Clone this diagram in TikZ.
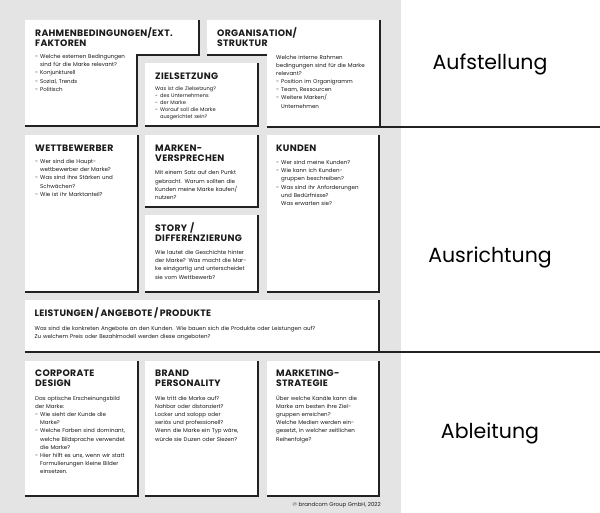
\documentclass[tikz,border=0pt]{standalone}
\usepackage{fontspec}
\setmainfont{Poppins}
\newfontfamily\ttlfont[LetterSpace=3]{Poppins}
\definecolor{bggray}{HTML}{E4E4E4}
\definecolor{shadecol}{HTML}{222222}
\definecolor{txt}{HTML}{1A1A1A}
\newcommand\mybul{\makebox[5pt][l]{-}}
\newcommand\myind{\hspace*{5pt}}
\tikzset{
  card/.style={fill=white},
  shadeline/.style={draw=shadecol,line width=1.3pt},
  ttl/.style={anchor=base west,inner sep=0,text width=170pt,align=left,text=txt,
    font=\ttlfont\bfseries\fontsize{9.3}{9.6}\selectfont},
  body/.style={anchor=base west,inner sep=0,text width=170pt,align=left,text=txt,
    font=\fontsize{5.5}{8.1}\selectfont},
  bodysmall/.style={body,font=\fontsize{5.1}{7.1}\selectfont},
  sidelabel/.style={anchor=base,inner sep=0,text=black,font=\fontsize{20.5}{24}\selectfont}
}
\begin{document}
\begin{tikzpicture}[x=1pt,y=-1pt]
\useasboundingbox (0,0) rectangle (600,513);
\fill[white] (0,0) rectangle (600,513);
\fill[bggray] (0,0) rectangle (401,513);

% Rahmenbedingungen (L-shape)
\fill[card] (25,20) -- (199,20) -- (199,55) -- (137,55) -- (137,126) -- (25,126) -- cycle;
\draw[shadeline] (199,20) -- (199,55) -- (137,55) -- (137,126) -- (25,126);
% Organisation (L-shape)
\fill[card] (207,20) -- (380,20) -- (380,127) -- (267,127) -- (267,55) -- (207,55) -- cycle;
\draw[shadeline] (380,20) -- (380,127);
\draw[shadeline] (207,55) -- (267,55);
\draw[shadeline] (267,127) -- (600,127);
% Zielsetzung
\fill[card] (145,63) rectangle (258,126);
\draw[shadeline] (258,63) -- (258,126) -- (145,126);
% Wettbewerber
\fill[card] (25,135) rectangle (138,292);
\draw[shadeline] (138,135) -- (138,292) -- (25,292);
% Markenversprechen
\fill[card] (145,135) rectangle (258,207);
\draw[shadeline] (258,135) -- (258,207) -- (145,207);
% Story
\fill[card] (145,215) rectangle (258,292);
\draw[shadeline] (258,215) -- (258,292) -- (145,292);
% Kunden
\fill[card] (267,135) rectangle (379,292);
\draw[shadeline] (379,135) -- (379,292) -- (267,292);
% Leistungen
\fill[card] (25,300) rectangle (379,352);
\draw[shadeline] (379,300) -- (379,352);
\draw[shadeline] (25,352) -- (600,352);
% Corporate design
\fill[card] (25,361) rectangle (138,496);
\draw[shadeline] (138,361) -- (138,496) -- (25,496);
% Brand personality
\fill[card] (145,361) rectangle (258,496);
\draw[shadeline] (258,361) -- (258,496) -- (145,496);
% Marketing
\fill[card] (267,361) rectangle (379,496);
\draw[shadeline] (379,361) -- (379,496) -- (267,496);

% Texts
\node[ttl] (t1) at (35,36.7) {RAHMENBEDINGUNGEN/EXT.\\FAKTOREN};
\node[body] (b1) at (35,58.8) {\mybul Welche externen Bedingungen\\\myind sind für die Marke relevant?\\\mybul Konjunkturell\\\mybul Sozial, Trends\\\mybul Politisch};

\node[ttl] (t2) at (217,36.7) {ORGANISATION/\\STRUKTUR};
\node[body] (b2) at (276,59.5) {Welche interne Rahmen\\bedingungen sind für die Marke\\relevant?\\\mybul Position im Organigramm\\\mybul Team, Ressourcen\\\mybul Weitere Marken/\\\myind Unternehmen};

\node[ttl] (t3) at (155,80) {ZIELSETZUNG};
\node[bodysmall] (b3) at (155,90.5) {Was ist die Zielsetzung?\\\mybul des Unternehmens\\\mybul der Marke\\\mybul Worauf soll die Marke\\\myind ausgerichtet sein?};

\node[ttl] (t4) at (35,151.7) {WETTBEWERBER};
\node[body] (b4) at (35,163.8) {\mybul Wer sind die Haupt-\\\myind wettbewerber der Marke?\\\mybul Was sind ihre Stärken und\\\myind Schwächen?\\\mybul Wie ist ihr Marktanteil?};

\node[ttl] (t5) at (155,151.7) {MARKEN-\\VERSPRECHEN};
\node[body] (b5) at (155,175) {Mit einem Satz auf den Punkt\\gebracht. Warum sollten die\\Kunden meine Marke kaufen/\\nutzen?};

\node[ttl] (t6) at (155,231.7) {STORY /\\DIFFERENZIERUNG};
\node[body] (b6) at (155,254.8) {Wie lautet die Geschichte hinter\\der Marke? Was macht die Mar-\\ke einzigartig und unterscheidet\\sie vom Wettbewerb?};

\node[ttl] (t7) at (276,151.7) {KUNDEN};
\node[body] (b7) at (276,164.8) {\mybul Wer sind meine Kunden?\\\mybul Wie kann ich Kunden-\\\myind gruppen beschreiben?\\\mybul Was sind ihr Anforderungen\\\myind und Bedürfnisse?\\\myind Was erwarten sie?};

\node[ttl,text width=340pt] (t8) at (34.5,316.7) {LEISTUNGEN\,/\,ANGEBOTE\,/\,PRODUKTE};
\node[body,text width=340pt,font=\fontsize{5.5}{7.7}\selectfont] (b8) at (34.5,330.5) {Was sind die konkreten Angebote an den Kunden. Wie bauen sich die Produkte oder Leistungen auf?\\Zu welchem Preis oder Bezahlmodell werden diese angeboten?};

\node[ttl] (t9) at (35,376.7) {CORPORATE\\DESIGN};
\node[body] (b9) at (35,400.5) {Das optische Erscheinungsbild\\der Marke:\\\mybul Wie sieht der Kunde die\\\myind Marke?\\\mybul Welche Farben sind dominant,\\\myind welche Bildsprache verwendet\\\myind die Marke?\\\mybul Hier hilft es uns, wenn wir statt\\\myind Formulierungen kleine Bilder\\\myind einsetzen.};

\node[ttl] (t10) at (155,376.7) {BRAND\\PERSONALITY};
\node[body] (b10) at (155,400.5) {Wie tritt die Marke auf?\\Nahbar oder distanziert?\\Locker und salopp oder\\seriös und professionell?\\Wenn die Marke ein Typ wäre,\\würde sie Duzen oder Siezen?};

\node[ttl] (t11) at (276,376.7) {MARKETING-\\STRATEGIE};
\node[body] (b11) at (276,400.5) {Über welche Kanäle kann die\\Marke am besten ihre Ziel-\\gruppen erreichen?\\Welche Medien werden ein-\\gesetzt, in welcher zeitlichen\\Reihenfolge?};

\node[anchor=base east,inner sep=0,text=txt,font=\fontsize{5.5}{6}\selectfont] (copy) at (381,506) {© brandcom Group GmbH, 2022};

\node[sidelabel] (s1) at (490,70) {Aufstellung};
\node[sidelabel] (s2) at (490,263) {Ausrichtung};
\node[sidelabel] (s3) at (490,438) {Ableitung};
\end{tikzpicture}
\end{document}
